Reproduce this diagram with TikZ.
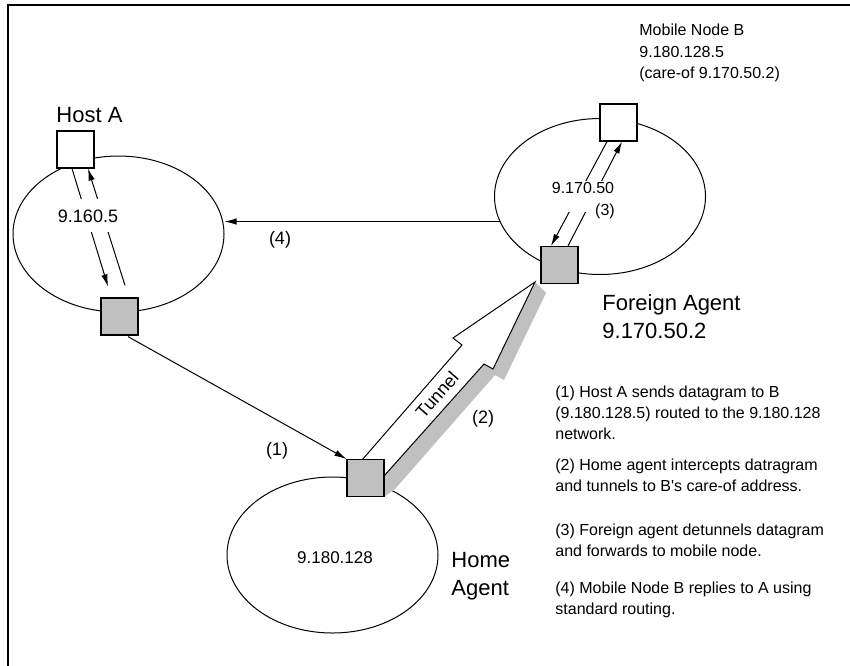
\documentclass[tikz,border=0pt]{standalone}
\usepackage{fontspec}
\setmainfont{Liberation Sans}[Ligatures=TeXOff]
\usepackage{tikz}
\usetikzlibrary{shapes,arrows.meta,positioning,calc}
\definecolor{agentgray}{RGB}{192,192,192}

\begin{document}
\begin{tikzpicture}[
    x=0.5pt, y=-0.5pt,
    host/.style={rectangle, draw, line width=0.6pt, fill=white, minimum size=18.5pt, inner sep=0pt},
    agent/.style={host, fill=agentgray},
    net/.style={ellipse, draw, line width=0.5pt, minimum width=105.5pt, minimum height=78pt, inner sep=0pt},
    arrow/.style={-{Latex[length=6pt, width=3.2pt]}, line width=0.5pt},
    addr/.style={fill=white, inner xsep=2pt, anchor=base},
    tag/.style={font=\fontsize{9}{11}\selectfont, inner sep=0pt, anchor=base},
    agentname/.style={font=\fontsize{11}{14}\selectfont, align=left, inner sep=0pt, anchor=north west},
    info/.style={font=\fontsize{8}{10.5}\selectfont, align=left, inner sep=0pt, anchor=north west}
]
\useasboundingbox (0,0) rectangle (850,665);

% Frame
\draw[line width=0.6pt] (8,667) -- (8,5) -- (852,5);

% Networks
\node[net] (anet) at (118.5,234) {};
\node[net] (fnet) at (600,196.5) {};
\node[net] (hnet) at (332.5,555) {};

% Tunnel with its shadow
\fill[agentgray] (384,476) -- (484,364) -- (493,369) -- (535,282) -- (546,293) -- (504,380) -- (495,375) -- (395,489) -- (384,497) -- cycle;
\draw[fill=white, line width=0.5pt] (362,460) -- (462,345) -- (453,338) -- (535,282) -- (493,369) -- (484,364) -- (384,476) -- cycle;
\node[tag, rotate=48.7, anchor=center] (tunnel) at (437,395) {Tunnel};

% Hosts and agents
\node[host] (hosta) at (75.5,149.5) {};
\node[agent] (agw) at (119.5,316.5) {};
\node[host] (mobile) at (618.5,122.5) {};
\node[agent] (fa) at (559.5,265) {};
\node[agent] (ha) at (365.5,478) {};

% Host A network
\draw[arrow] ($(hosta.south)+(-3.5,0)$) -- ($(agw.north)+(-11.5,-11)$);
\draw[arrow] ($(agw.north)+(5.5,-12)$) -- ($(hosta.south)+(12.5,0)$);
\node[addr, font=\fontsize{9}{11}\selectfont, text height=6.5pt, text depth=0pt, inner ysep=5pt] (anetaddr) at (88,222) {9.160.5};

% Foreign network
\draw[arrow] ($(mobile.south)+(-11.5,0)$) -- ($(fa.north)+(-8.5,0)$);
\draw[arrow] ($(fa.north)+(8.5,0)$) -- ($(mobile.south)+(3.5,0)$);
\node[addr, font=\fontsize{8}{10}\selectfont, text height=5.8pt, text depth=9.5pt, inner ysep=0pt] (fnetaddr) at (583,193) {9.170.50};

% Home network
\node[tag, font=\fontsize{8.5}{10}\selectfont] (hnetaddr) at (335,563) {9.180.128};

% Datagram routes
\draw[arrow] ($(agw.south)+(8.5,1)$) -- (ha.north west);
\draw[arrow] (fnet.194) -- (anet.east |- fnet.194);

% Step numbers
\node[tag] (step1) at (277,455) {(1)};
\node[tag] (step2) at (483,423) {(2)};
\node[tag, font=\fontsize{8}{10}\selectfont] (step3) at (605,215) {(3)};
\node[tag] (step4) at (280,244) {(4)};

% Names
\node[tag, font=\fontsize{11}{14}\selectfont] (hostaname) at (89.5,122) {Host A};
\node[info, font=\fontsize{8}{10.75}\selectfont] (mobilename) at (639,24) {Mobile Node B\\9.180.128.5\\(care-of 9.170.50.2)};
\node[agentname] (faname) at (602,294) {Foreign Agent\\9.170.50.2};
\node[agentname] (haname) at (451,552) {Home\\Agent};

% Explanation
\node[info] (note1) at (555,385) {(1) Host A sends datagram to B\\(9.180.128.5) routed to the 9.180.128\\network.};
\node[info] (note2) at (555,458) {(2) Home agent intercepts datragram\\and tunnels to B's care-of address.};
\node[info] (note3) at (555,523) {(3) Foreign agent detunnels datagram\\and forwards to mobile node.};
\node[info] (note4) at (555,581) {(4) Mobile Node B replies to A using\\standard routing.};

\end{tikzpicture}
\end{document}
